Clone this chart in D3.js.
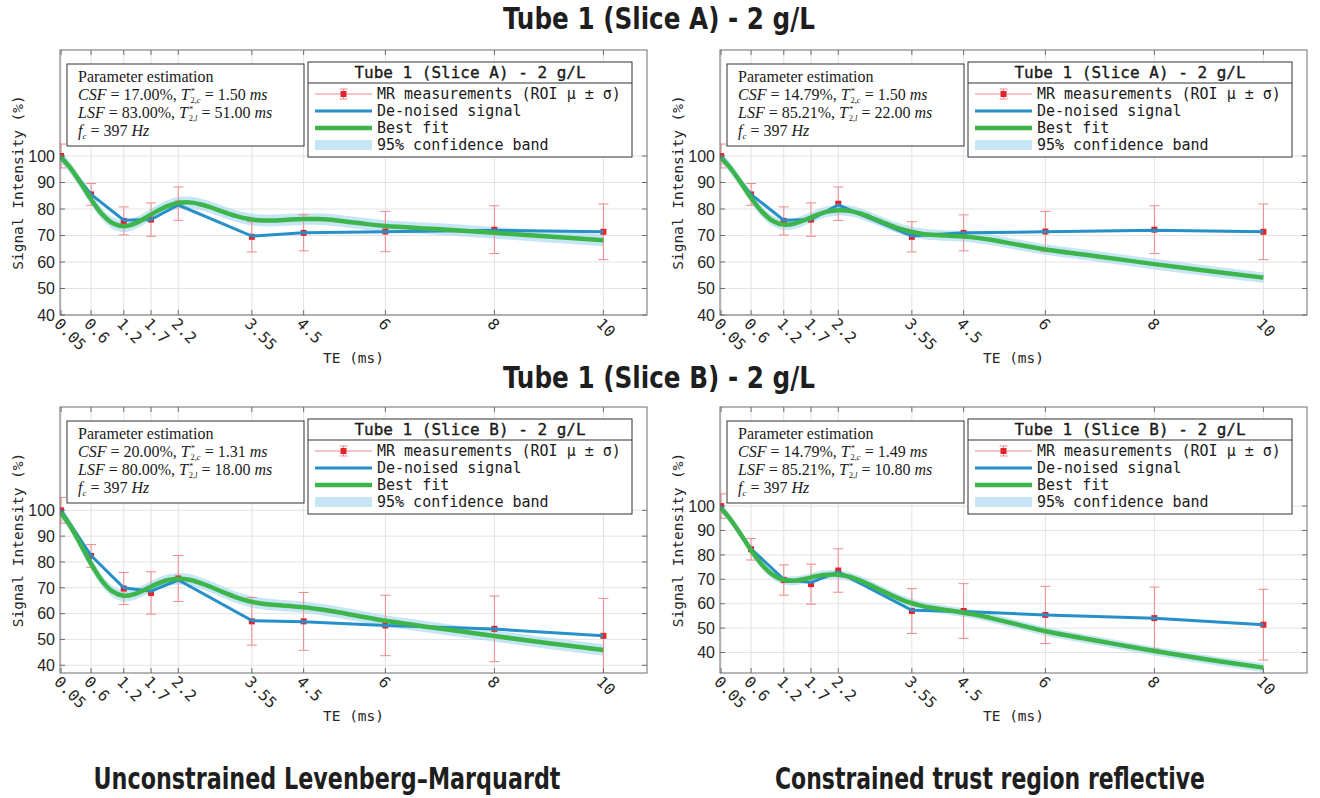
<!DOCTYPE html>
<html><head><meta charset="utf-8">
<script src="https://cdn.jsdelivr.net/npm/d3@7"></script>
<style>
html,body{margin:0;padding:0;background:#fff;}
svg{display:block;}
</style></head>
<body>
<svg id="chart" width="1320" height="798"></svg>
<script>
// ---------------- DATA ----------------
const TE = [0.05, 0.6, 1.2, 1.7, 2.2, 3.55, 4.5, 6, 8, 10];
const xTickLabels = ["0.05", "0.6", "1.2", "1.7", "2.2", "3.55", "4.5", "6", "8", "10"];
const yTicks = [40, 50, 60, 70, 80, 90, 100];

// Slice A measurements (ROI mean, std) and de-noised signal
const measA = [100, 85.5, 75.5, 76, 82, 69.5, 71, 71.5, 72.2, 71.4];
const sdA = [4.5, 4.1, 5.3, 6.3, 6.3, 5.7, 6.8, 7.6, 9, 10.5];
const denoisedA = [100, 85.5, 75.8, 76, 81.5, 69.8, 71, 71.4, 72, 71.4];
// Slice B
const measB = [100, 82.3, 69.7, 68, 73.6, 57, 57, 55.4, 54.1, 51.4];
const sdB = [5, 4.4, 6.2, 8.2, 8.9, 9.2, 11.2, 11.7, 12.7, 14.5];
const denoisedB = [100, 82.5, 70, 68.7, 73, 57.3, 56.8, 55.4, 54, 51.4];

// Best-fit curves
const fitTE = [0.05, 0.2, 0.4, 0.6, 0.8, 1.0, 1.2, 1.4, 1.6, 1.8, 2.0, 2.2, 2.4, 2.6, 2.8, 3.0, 3.25, 3.5, 3.75, 4.0, 4.25, 4.5, 4.75, 5.0, 5.5, 6, 7, 8, 9, 10];
const fitLM_A = [99.3, 96.0, 90.1, 83.7, 78.1, 74.6, 73.5, 74.5, 76.7, 79.1, 81.1, 82.3, 82.5, 81.8, 80.6, 79.1, 77.4, 76.2, 75.7, 75.7, 76.0, 76.2, 76.2, 75.9, 74.7, 73.6, 72.4, 71.0, 69.6, 68.2];
const fitTRR_A = [99.2, 96.0, 90.3, 84.2, 79.0, 75.5, 74.1, 74.5, 76.0, 77.7, 79.0, 79.5, 79.3, 78.3, 76.8, 75.1, 73.1, 71.6, 70.6, 70.2, 69.9, 69.6, 69.1, 68.4, 66.5, 64.7, 62.0, 59.2, 56.6, 54.1];
const fitLM_B = [98.9, 94.6, 87.1, 79.3, 72.7, 68.5, 66.9, 67.6, 69.4, 71.4, 72.9, 73.5, 73.1, 71.9, 70.3, 68.5, 66.4, 64.8, 63.8, 63.3, 62.9, 62.5, 61.8, 61.0, 59.1, 57.2, 54.2, 51.3, 48.5, 45.9];
const fitTRR_B = [99.0, 95.2, 88.8, 81.9, 76.0, 71.8, 69.7, 69.4, 70.2, 71.3, 71.9, 71.9, 71.1, 69.5, 67.5, 65.3, 62.7, 60.5, 59.0, 58.0, 57.2, 56.3, 55.4, 54.1, 51.4, 48.7, 44.6, 40.6, 37.0, 33.8];
const bandHalf = [2.2, 2.0, 2.2, 1.8];

const yDomains = [[40, 140], [40, 140], [37, 140], [31.6, 140.6]];
const legendTitles = ["Tube 1 (Slice A) - 2 g/L", "Tube 1 (Slice A) - 2 g/L", "Tube 1 (Slice B) - 2 g/L", "Tube 1 (Slice B) - 2 g/L"];
const legendLabels = ["MR measurements (ROI \u03bc \u00b1 \u03c3)", "De-noised signal", "Best fit", "95% confidence band"];
const paramCSF = ["17.00", "14.79", "20.00", "14.79"];
const paramT2c = ["1.50", "1.50", "1.31", "1.49"];
const paramLSF = ["83.00", "85.21", "80.00", "85.21"];
const paramT2l = ["51.00", "22.00", "18.00", "10.80"];
const paramFc = ["397", "397", "397", "397"];
const rowTitles = ["Tube 1 (Slice A) - 2 g/L", "Tube 1 (Slice B) - 2 g/L"];
const colTitles = ["Unconstrained Levenberg\u2013Marquardt", "Constrained trust region reflective"];

const panels = [
  {meas: measA, sd: sdA, den: denoisedA, fit: fitLM_A},
  {meas: measA, sd: sdA, den: denoisedA, fit: fitTRR_A},
  {meas: measB, sd: sdB, den: denoisedB, fit: fitLM_B},
  {meas: measB, sd: sdB, den: denoisedB, fit: fitTRR_B}
];

// ---------------- LAYOUT ----------------
const svg = d3.select("#chart");
const axLeft = [60, 720], axRight = [647, 1307];
const axTop = [50, 407], axBottom = [315, 673];
const MONO = "'DejaVu Sans Mono', 'Liberation Mono', monospace";
const SANS = "'Liberation Sans', 'DejaVu Sans', sans-serif";
const SERIF = "'Liberation Serif', 'DejaVu Serif', serif";
const COND = "'DejaVu Sans Condensed', 'DejaVu Sans', sans-serif";
const BLUE = "#2790c8", GREEN = "#3db54a", BAND = "#a8d8ef", RED = "#e3242b", ERR = "#ee8a8a";

function bigTitle(txt, cx, by, len) {
  svg.append("text").attr("x", cx).attr("y", by).attr("text-anchor", "middle")
    .attr("font-family", COND).attr("font-size", 30).attr("font-weight", "bold")
    .attr("textLength", len).attr("lengthAdjust", "spacingAndGlyphs")
    .attr("fill", "#1e1e1e").text(txt);
}
bigTitle(rowTitles[0], 659, 29, 312);
bigTitle(rowTitles[1], 659, 388, 312);
bigTitle(colTitles[0], 327, 789, 467);
bigTitle(colTitles[1], 990, 789, 430);

panels.forEach((p, i) => {
  const col = i % 2, row = Math.floor(i / 2);
  const L = axLeft[col], R = axRight[col], T = axTop[row], B = axBottom[row];
  const x = d3.scaleLinear().domain([0.03, 10.8]).range([L, R]);
  const y = d3.scaleLinear().domain(yDomains[i]).range([B, T]);
  const g = svg.append("g");
  const clipId = "clip" + i;
  svg.append("clipPath").attr("id", clipId).append("rect").attr("x", L).attr("y", T).attr("width", R - L).attr("height", B - T);

  // grid
  g.append("g").selectAll("line").data(TE).join("line")
    .attr("x1", d => x(d)).attr("x2", d => x(d)).attr("y1", T).attr("y2", B)
    .attr("stroke", "#e3e3e3").attr("stroke-width", 1);
  g.append("g").selectAll("line").data(yTicks).join("line")
    .attr("x1", L).attr("x2", R).attr("y1", d => y(d)).attr("y2", d => y(d))
    .attr("stroke", "#e3e3e3").attr("stroke-width", 1);

  const plot = g.append("g").attr("clip-path", `url(#${clipId})`);
  // confidence band
  const area = d3.area().x((d, k) => x(fitTE[k])).y0(d => y(d - bandHalf[i])).y1(d => y(d + bandHalf[i]))
    .curve(d3.curveCatmullRom.alpha(0.5));
  plot.append("path").datum(p.fit).attr("d", area).attr("fill", BAND).attr("opacity", 0.65);

  // error bars
  const eb = plot.append("g").attr("stroke", ERR).attr("stroke-width", 1);
  TE.forEach((t, k) => {
    const cx = x(t), y1 = y(p.meas[k] + p.sd[k]), y2 = y(p.meas[k] - p.sd[k]);
    eb.append("line").attr("x1", cx).attr("x2", cx).attr("y1", y1).attr("y2", y2);
    eb.append("line").attr("x1", cx - 5).attr("x2", cx + 5).attr("y1", y1).attr("y2", y1);
    eb.append("line").attr("x1", cx - 5).attr("x2", cx + 5).attr("y1", y2).attr("y2", y2);
  });
  plot.append("g").selectAll("rect").data(p.meas).join("rect")
    .attr("x", (d, k) => x(TE[k]) - 3).attr("y", d => y(d) - 3).attr("width", 6).attr("height", 6)
    .attr("fill", RED);

  // de-noised line
  const lineD = d3.line().x((d, k) => x(TE[k])).y(d => y(d));
  plot.append("path").datum(p.den).attr("d", lineD).attr("fill", "none").attr("stroke", BLUE).attr("stroke-width", 3);
  // fit line
  const lineF = d3.line().x((d, k) => x(fitTE[k])).y(d => y(d)).curve(d3.curveCatmullRom.alpha(0.5));
  plot.append("path").datum(p.fit).attr("d", lineF).attr("fill", "none").attr("stroke", GREEN).attr("stroke-width", 4.5);

  // axes frame & ticks
  g.append("rect").attr("x", L).attr("y", T).attr("width", R - L).attr("height", B - T)
    .attr("fill", "none").attr("stroke", "#6e6e6e").attr("stroke-width", 1);
  const tk = g.append("g").attr("stroke", "#6e6e6e").attr("stroke-width", 1);
  TE.forEach(t => {
    tk.append("line").attr("x1", x(t)).attr("x2", x(t)).attr("y1", B).attr("y2", B - 5);
    tk.append("line").attr("x1", x(t)).attr("x2", x(t)).attr("y1", T).attr("y2", T + 5);
  });
  yTicks.forEach(v => {
    tk.append("line").attr("x1", L).attr("x2", L + 5).attr("y1", y(v)).attr("y2", y(v));
    tk.append("line").attr("x1", R).attr("x2", R - 5).attr("y1", y(v)).attr("y2", y(v));
  });
  // y tick labels
  g.append("g").selectAll("text").data(yTicks).join("text")
    .attr("x", L - 5).attr("y", d => y(d)).attr("dy", "0.36em").attr("text-anchor", "end")
    .attr("font-family", SANS).attr("font-size", 16).attr("fill", "#262626").text(d => d);
  // x tick labels rotated
  g.append("g").selectAll("text").data(TE).join("text")
    .attr("transform", (d) => `translate(${x(d) - 4},${B + 6}) rotate(45)`)
    .attr("dy", "0.35em").attr("text-anchor", "start")
    .attr("font-family", MONO).attr("font-size", 15.5).attr("fill", "#262626")
    .text((d, k) => xTickLabels[k]);
  // axis labels
  g.append("text").attr("x", (L + R) / 2).attr("y", B + 48).attr("text-anchor", "middle")
    .attr("font-family", MONO).attr("font-size", 14.5).attr("fill", "#262626").text("TE (ms)");
  g.append("text").attr("transform", `translate(${L - 37},${(T + B) / 2}) rotate(-90)`)
    .attr("text-anchor", "middle").attr("font-family", MONO).attr("font-size", 14.5).attr("fill", "#262626")
    .text("Signal Intensity (%)");

  // parameter box
  const pbx = L + 7, pby = T + 14, pbw = 237, pbh = 82;
  g.append("rect").attr("x", pbx).attr("y", pby).attr("width", pbw).attr("height", pbh)
    .attr("fill", "#fff").attr("stroke", "#333").attr("stroke-width", 1);
  const pt = (yy) => g.append("text").attr("x", pbx + 11).attr("y", yy)
    .attr("font-family", SERIF).attr("font-size", 16).attr("fill", "#1a1a1a");
  pt(pby + 18).text("Parameter estimation");
  const mathLine = (yy, name, pct, sub, val) => {
    const t = pt(yy);
    t.append("tspan").attr("font-style", "italic").text(name);
    t.append("tspan").text(` = ${pct}%, `);
    t.append("tspan").attr("font-style", "italic").text("T");
    t.append("tspan").attr("font-size", 8.5).attr("dx", 1).attr("dy", -6).text("*");
    t.append("tspan").attr("font-size", 8.5).attr("dx", -4.5).attr("dy", 8.5).text("2,");
    t.append("tspan").attr("font-size", 8.5).attr("font-style", "italic").text(sub);
    t.append("tspan").attr("dy", -2.5).text(` = ${val} `);
    t.append("tspan").attr("font-style", "italic").text("ms");
  };
  mathLine(pby + 36, "CSF", paramCSF[i], "c", paramT2c[i]);
  mathLine(pby + 54, "LSF", paramLSF[i], "l", paramT2l[i]);
  const f = pt(pby + 72);
  f.append("tspan").attr("font-style", "italic").text("f");
  f.append("tspan").attr("font-size", 9).attr("font-style", "italic").attr("dy", 2.5).text("c");
  f.append("tspan").attr("dy", -2.5).text(` = ${paramFc[i]} `);
  f.append("tspan").attr("font-style", "italic").text("Hz");

  // legend
  const lw = 324, lx = R - 15 - lw, ly = T + 12, lh = 95;
  const lg = g.append("g");
  lg.append("rect").attr("x", lx).attr("y", ly).attr("width", lw).attr("height", lh)
    .attr("fill", "#fff").attr("stroke", "#333").attr("stroke-width", 1);
  lg.append("line").attr("x1", lx).attr("x2", lx + lw).attr("y1", ly + 21).attr("y2", ly + 21)
    .attr("stroke", "#333").attr("stroke-width", 1);
  lg.append("text").attr("x", lx + lw / 2).attr("y", ly + 15.5).attr("text-anchor", "middle")
    .attr("font-family", MONO).attr("font-size", 16).attr("fill", "#1a1a1a")
    .attr("stroke", "#1a1a1a").attr("stroke-width", 0.35).text(legendTitles[i]);
  const ex0 = lx + 7, ex1 = lx + 64, tx = lx + 69;
  const rowsY = [ly + 32, ly + 49, ly + 66, ly + 83];
  // entry 1: error bar symbol
  const ecx = (ex0 + ex1) / 2;
  lg.append("line").attr("x1", ex0).attr("x2", ex1).attr("y1", rowsY[0]).attr("y2", rowsY[0]).attr("stroke", ERR);
  lg.append("line").attr("x1", ecx).attr("x2", ecx).attr("y1", rowsY[0] - 5).attr("y2", rowsY[0] + 5).attr("stroke", ERR);
  lg.append("line").attr("x1", ecx - 4).attr("x2", ecx + 4).attr("y1", rowsY[0] - 5).attr("y2", rowsY[0] - 5).attr("stroke", ERR);
  lg.append("line").attr("x1", ecx - 4).attr("x2", ecx + 4).attr("y1", rowsY[0] + 5).attr("y2", rowsY[0] + 5).attr("stroke", ERR);
  lg.append("rect").attr("x", ecx - 3).attr("y", rowsY[0] - 3).attr("width", 6).attr("height", 6).attr("fill", RED);
  lg.append("line").attr("x1", ex0).attr("x2", ex1).attr("y1", rowsY[1]).attr("y2", rowsY[1]).attr("stroke", BLUE).attr("stroke-width", 3);
  lg.append("line").attr("x1", ex0).attr("x2", ex1).attr("y1", rowsY[2]).attr("y2", rowsY[2]).attr("stroke", GREEN).attr("stroke-width", 4.5);
  lg.append("rect").attr("x", ex0).attr("y", rowsY[3] - 5).attr("width", ex1 - ex0).attr("height", 10).attr("fill", BAND).attr("opacity", 0.65);
  legendLabels.forEach((lab, k) => {
    lg.append("text").attr("x", tx).attr("y", rowsY[k]).attr("dy", "0.35em")
      .attr("font-family", MONO).attr("font-size", 15).attr("fill", "#1a1a1a").text(lab);
  });
});
</script>
</body></html>
